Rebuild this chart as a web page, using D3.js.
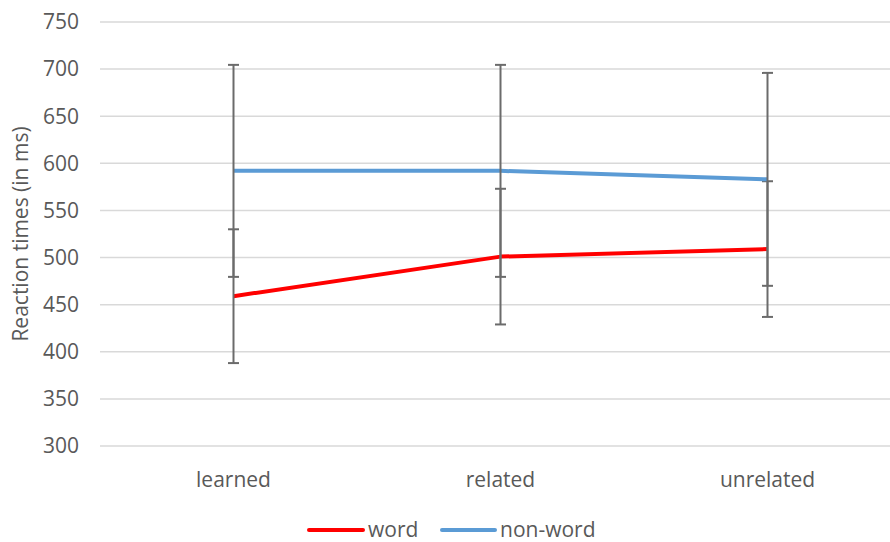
<!DOCTYPE html>
<html>
<head>
<meta charset="utf-8">
<script src="https://cdn.jsdelivr.net/npm/d3@7"></script>
<style>
  html, body { margin: 0; padding: 0; background: #fff; }
  svg { display: block; font-family: "Open Sans", sans-serif; }
</style>
</head>
<body>
<svg id="chart" width="890" height="542"></svg>
<script>
// Reaction time means and error bar half-widths per condition
const categories = ["learned", "related", "unrelated"];
const wordMeans = [459, 501, 509];
const wordErrors = [71, 72, 72];
const nonWordMeans = [592, 592, 583];
const nonWordErrors = [112.5, 112.5, 113];
const yTicks = [300, 350, 400, 450, 500, 550, 600, 650, 700, 750];

const series = [
  { name: "word", color: "#ff0000", means: wordMeans, errors: wordErrors },
  { name: "non-word", color: "#5b9bd5", means: nonWordMeans, errors: nonWordErrors }
];

const svg = d3.select("#chart");
const textColor = "#595959";
const fontSize = 21;

const x = d3.scaleBand().domain(categories).range([100, 901]);
const y = d3.scaleLinear().domain([300, 750]).range([446, 22]);
const cx = c => x(c) + x.bandwidth() / 2;

// Horizontal gridlines
svg.append("g")
  .selectAll("line")
  .data(yTicks)
  .join("line")
  .attr("x1", 100).attr("x2", 901)
  .attr("y1", d => y(d)).attr("y2", d => y(d))
  .attr("stroke", "#d9d9d9")
  .attr("stroke-width", 1.5);

// Y tick labels
svg.append("g")
  .selectAll("text")
  .data(yTicks)
  .join("text")
  .attr("x", 79)
  .attr("y", d => y(d))
  .attr("dy", "0.35em")
  .attr("text-anchor", "end")
  .attr("font-size", fontSize)
  .attr("fill", textColor)
  .text(d => d);

// Y axis title
svg.append("text")
  .attr("transform", "translate(28,234) rotate(-90)")
  .attr("text-anchor", "middle")
  .attr("font-size", fontSize)
  .attr("fill", textColor)
  .text("Reaction times (in ms)");

// Category labels
svg.append("g")
  .selectAll("text")
  .data(categories)
  .join("text")
  .attr("x", d => cx(d))
  .attr("y", 480)
  .attr("dy", "0.35em")
  .attr("text-anchor", "middle")
  .attr("font-size", fontSize)
  .attr("fill", textColor)
  .text(d => d);

// Each series: its line, then its error bars on top
const line = d3.line()
  .x((d, i) => cx(categories[i]))
  .y(d => y(d));

series.forEach(s => {
  const g = svg.append("g");
  g.append("path")
    .attr("d", line(s.means))
    .attr("fill", "none")
    .attr("stroke", s.color)
    .attr("stroke-width", 4)
    .attr("stroke-linejoin", "round");

  const bars = s.means.map((m, i) => ({ c: categories[i], lo: m - s.errors[i], hi: m + s.errors[i] }));
  const eb = g.append("g")
    .attr("stroke", "#6b6b6b")
    .attr("stroke-width", 2)
    .selectAll("g")
    .data(bars)
    .join("g");
  eb.append("line")
    .attr("x1", d => cx(d.c)).attr("x2", d => cx(d.c))
    .attr("y1", d => y(d.lo)).attr("y2", d => y(d.hi));
  eb.append("line")
    .attr("x1", d => cx(d.c) - 5.5).attr("x2", d => cx(d.c) + 5.5)
    .attr("y1", d => y(d.lo)).attr("y2", d => y(d.lo));
  eb.append("line")
    .attr("x1", d => cx(d.c) - 5.5).attr("x2", d => cx(d.c) + 5.5)
    .attr("y1", d => y(d.hi)).attr("y2", d => y(d.hi));
});

// Legend
const legendItems = [
  { name: "word", color: "#ff0000", x: 309, w: 54 },
  { name: "non-word", color: "#5b9bd5", x: 442, w: 53 }
];
const lg = svg.append("g")
  .selectAll("g")
  .data(legendItems)
  .join("g");
lg.append("line")
  .attr("x1", d => d.x).attr("x2", d => d.x + d.w)
  .attr("y1", 530).attr("y2", 530)
  .attr("stroke", d => d.color)
  .attr("stroke-width", 4)
  .attr("stroke-linecap", "round");
lg.append("text")
  .attr("x", d => d.x + d.w + 5)
  .attr("y", 530)
  .attr("dy", "0.35em")
  .attr("font-size", fontSize)
  .attr("fill", textColor)
  .text(d => d.name);
</script>
</body>
</html>
